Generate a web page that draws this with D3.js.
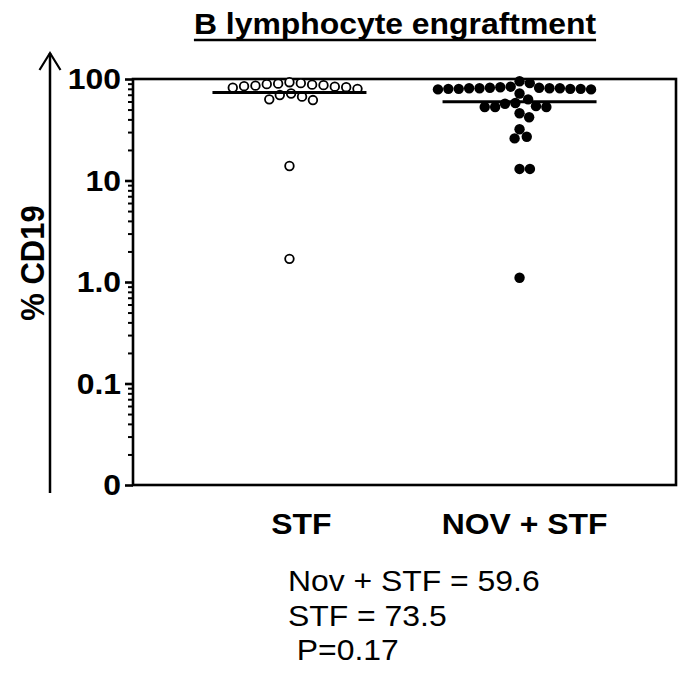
<!DOCTYPE html>
<html>
<head>
<meta charset="utf-8">
<script src="https://cdn.jsdelivr.net/npm/d3@7"></script>
<style>
  html, body { margin: 0; padding: 0; background: #fff; }
  svg { display: block; font-family: "Liberation Sans", Arial, sans-serif; }
</style>
</head>
<body>
<svg id="chart" width="684" height="679"></svg>
<script>
// Groups and per-animal % CD19 values
const groups = ["STF", "NOV + STF"];
const stfValues = [93, 91, 90, 89, 88, 87, 86, 85, 84, 83, 82, 80, 72, 69.6, 67, 63, 62, 13.9, 1.69];
const novStfValues = [95, 91, 84, 83, 82, 82, 81, 81, 81, 81, 80, 80, 80, 80, 79, 79, 72, 63,
                      58, 57, 54, 53, 53, 53, 46, 42, 32, 27, 26, 13, 13, 1.1];
const groupMeans = [73.5, 59.6];

// Y axis ticks (the lowest decade is drawn as "0")
const majorTicks = [0.01, 0.1, 1, 10, 100];
const majorLabels = ["0", "0.1", "1.0", "10", "100"];
const minorMultipliers = [2, 3, 4, 5, 6, 7, 8, 9];

const titleText = "B lymphocyte engraftment";
const yTitle = "% CD19";
const statLines = ["Nov + STF = 59.6", "STF = 73.5", " P=0.17"];

const svg = d3.select("#chart");
const SX = 1.1; // glyph widening used for all text

const plot = { left: 133, right: 676, top: 79, bottom: 485 };

const y = d3.scaleLog().domain([0.01, 100]).range([plot.bottom, plot.top]);
const x = d3.scalePoint().domain(groups).range([plot.left, plot.right]).padding(0.68);

function wideText(parent, px, py, str, anchor, size, weight) {
  return parent.append("text")
    .attr("transform", `translate(${px},${py}) scale(${SX},1)`)
    .attr("text-anchor", anchor)
    .attr("font-size", size)
    .attr("font-weight", weight)
    .attr("fill", "#000")
    .style("white-space", "pre")
    .text(str);
}

// Title with underline
const title = wideText(svg, 395, 34, titleText, "middle", 29, "bold");
const tb = title.node().getBBox();
const tw = tb.width * SX;
svg.append("line")
  .attr("x1", 395 - tw / 2).attr("x2", 395 + tw / 2)
  .attr("y1", 40).attr("y2", 40)
  .attr("stroke", "#000").attr("stroke-width", 2.5);

// Frame
svg.append("rect")
  .attr("x", plot.left).attr("y", plot.top)
  .attr("width", plot.right - plot.left).attr("height", plot.bottom - plot.top)
  .attr("fill", "none").attr("stroke", "#000").attr("stroke-width", 2.6);

// Minor ticks
const minorTicks = [];
[0.01, 0.1, 1, 10].forEach(d => minorMultipliers.forEach(m => minorTicks.push(d * m)));
const minorAxis = svg.append("g")
  .attr("transform", `translate(${plot.left},0)`)
  .call(d3.axisLeft(y).tickValues(minorTicks).tickSize(5).tickFormat(""));
minorAxis.select(".domain").remove();
minorAxis.selectAll(".tick line").attr("stroke", "#000").attr("stroke-width", 2);

// Major ticks
const majorAxis = svg.append("g")
  .attr("transform", `translate(${plot.left},0)`)
  .call(d3.axisLeft(y).tickValues(majorTicks).tickSize(8).tickFormat(""));
majorAxis.select(".domain").remove();
majorAxis.selectAll(".tick line").attr("stroke", "#000").attr("stroke-width", 2.6);
majorTicks.forEach((t, i) => {
  wideText(svg, 121, y(t) + 10, majorLabels[i], "end", 29, "bold");
});

// Y title and the arrow beside it
svg.append("text")
  .attr("transform", `translate(44,263) rotate(-90) scale(1,${SX})`)
  .attr("text-anchor", "middle")
  .attr("font-size", 31)
  .attr("font-weight", "bold")
  .text(yTitle);
svg.append("line")
  .attr("x1", 50).attr("x2", 50).attr("y1", 53).attr("y2", 493)
  .attr("stroke", "#000").attr("stroke-width", 2.5);
svg.append("path")
  .attr("d", "M39.5,70 L50,53 L60.5,70")
  .attr("fill", "none").attr("stroke", "#000").attr("stroke-width", 2.2);

// Category labels
const labelShift = [12, 5];
groups.forEach((g, i) => wideText(svg, x(g) + labelShift[i], 534, g, "middle", 29, "bold"));

// Column scatter: spread points sideways so they do not overlap
function dodge(values, gap) {
  const pts = values.map(v => ({ v, py: y(v), dx: 0 })).sort((a, b) => b.v - a.v);
  const placed = [];
  for (const p of pts) {
    const cands = [0];
    for (const q of placed) {
      const dy = p.py - q.py;
      if (Math.abs(dy) < gap) {
        const off = Math.sqrt(gap * gap - dy * dy);
        cands.push(q.dx + off, q.dx - off);
      }
    }
    cands.sort((a, b) => Math.abs(a) - Math.abs(b));
    for (const c of cands) {
      const ok = placed.every(q => Math.hypot(c - q.dx, p.py - q.py) >= gap - 1e-6);
      if (ok) { p.dx = c; break; }
    }
    placed.push(p);
  }
  return pts;
}

const stfPts = dodge(stfValues, 11.4);
svg.append("g").selectAll("circle")
  .data(stfPts).join("circle")
  .attr("cx", d => x(groups[0]) + d.dx)
  .attr("cy", d => d.py)
  .attr("r", 4.3)
  .attr("fill", "#fff").attr("stroke", "#000").attr("stroke-width", 1.8);

const novPts = dodge(novStfValues, 10.4);
svg.append("g").selectAll("circle")
  .data(novPts).join("circle")
  .attr("cx", d => x(groups[1]) + d.dx)
  .attr("cy", d => d.py)
  .attr("r", 5.2)
  .attr("fill", "#000");

// Mean lines
svg.append("g").selectAll("line")
  .data(groups).join("line")
  .attr("x1", g => x(g) - 77).attr("x2", g => x(g) + 77)
  .attr("y1", (g, i) => y(groupMeans[i])).attr("y2", (g, i) => y(groupMeans[i]))
  .attr("stroke", "#000").attr("stroke-width", 3);

// Summary statistics
const statY = [591, 626, 660];
statLines.forEach((s, i) => wideText(svg, 288, statY[i], s, "start", 29, "normal"));
</script>
</body>
</html>
